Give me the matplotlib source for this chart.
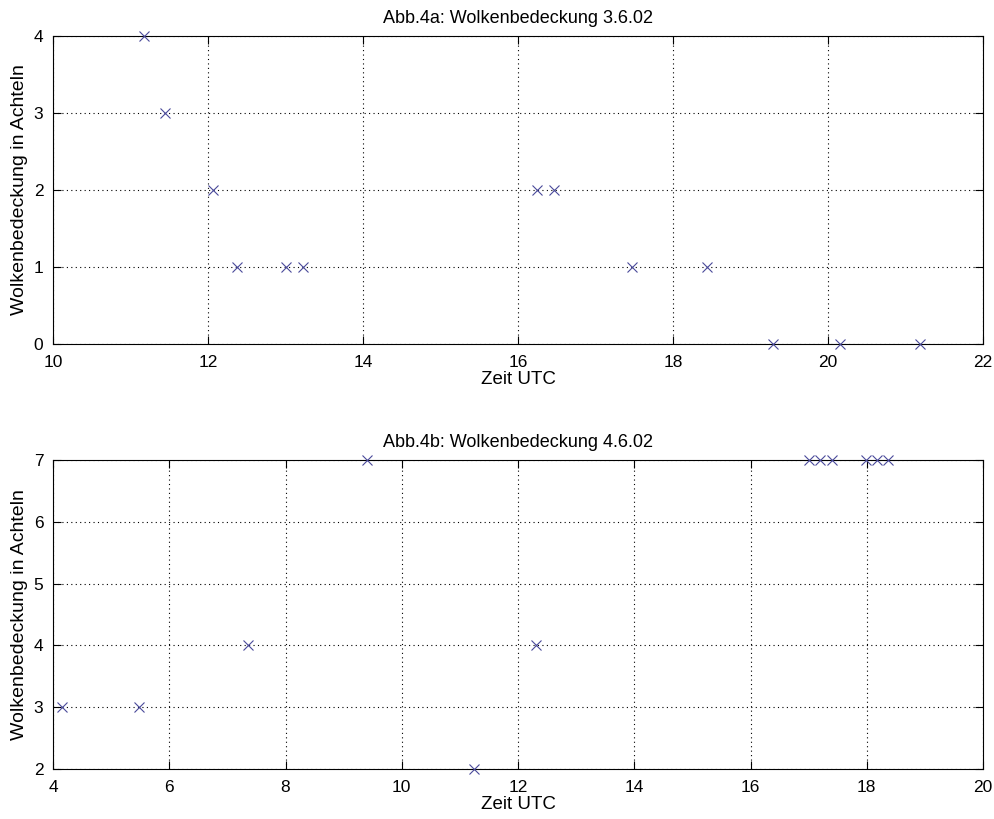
import matplotlib
matplotlib.use("Agg")
import matplotlib.pyplot as plt

plt.rcParams['font.family'] = ['Liberation Sans', 'DejaVu Sans']

# Abb.4a: 3.6.02
time_a = [11.17, 11.44, 12.07, 12.37, 13.00, 13.22, 16.25, 16.47, 17.47, 18.44, 19.29, 20.15, 21.19]
cover_a = [4, 3, 2, 1, 1, 1, 2, 2, 1, 1, 0, 0, 0]
xticks_a = [10, 12, 14, 16, 18, 20, 22]
yticks_a = [0, 1, 2, 3, 4]

# Abb.4b: 4.6.02
time_b = [4.16, 5.48, 7.36, 9.40, 11.24, 12.31, 17.01, 17.20, 17.40, 17.99, 18.18, 18.36]
cover_b = [3, 3, 4, 7, 2, 4, 7, 7, 7, 7, 7, 7]
xticks_b = [4, 6, 8, 10, 12, 14, 16, 18, 20]
yticks_b = [2, 3, 4, 5, 6, 7]

titles = ["Abb.4a: Wolkenbedeckung 3.6.02", "Abb.4b: Wolkenbedeckung 4.6.02"]
xlabel = "Zeit UTC"
ylabel = "Wolkenbedeckung in Achteln"

fig = plt.figure(figsize=(9.95, 8.19), dpi=100)
ax1 = fig.add_axes([0.0533, 0.580, 0.9347, 0.376])
ax2 = fig.add_axes([0.0533, 0.0611, 0.9347, 0.3772])

color = '#4a4a9a'
for ax, t, c, xt, yt, title in [
    (ax1, time_a, cover_a, xticks_a, yticks_a, titles[0]),
    (ax2, time_b, cover_b, xticks_b, yticks_b, titles[1]),
]:
    ax.plot(t, c, linestyle='none', marker='x', color=color, ms=6.5, mew=0.8, clip_on=False, zorder=5)
    ax.set_xlim(xt[0], xt[-1])
    ax.set_ylim(yt[0], yt[-1])
    ax.set_xticks(xt)
    ax.set_yticks(yt)
    ax.grid(True, linestyle=(0, (1, 3)), color='black', linewidth=0.8)
    ax.tick_params(direction='in', top=True, right=True, length=6, labelsize=12.5)
    ax.tick_params(axis='x', pad=8)
    ax.tick_params(axis='y', pad=7)
    for s in ax.spines.values():
        s.set_linewidth(0.8)
    ax.set_title(title, fontsize=13, pad=9.5)
    ax.set_xlabel(xlabel, fontsize=13.5, labelpad=1)
    ax.set_ylabel(ylabel, fontsize=14, labelpad=4)

fig.savefig("out.png", dpi=100)
